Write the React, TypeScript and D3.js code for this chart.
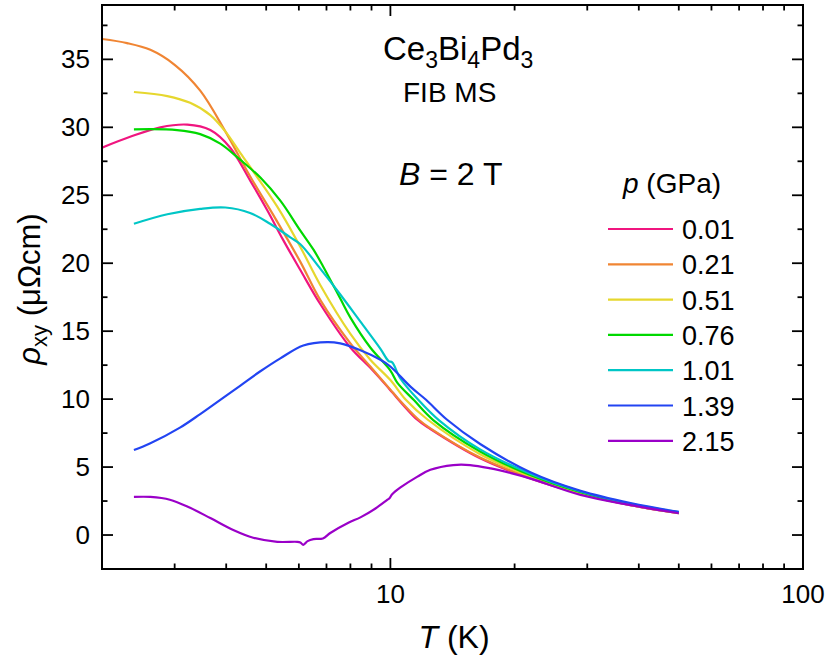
import { useMemo } from "react";
import * as d3 from "d3";

const WIDTH = 830;
const HEIGHT = 660;
const FRAME = { left: 102, right: 803, top: 5, bottom: 569 };
const FONT = "'Liberation Sans', Arial, Helvetica, sans-serif";

// pressures (GPa) and line colours
const pressures = ["0.01", "0.21", "0.51", "0.76", "1.01", "1.39", "2.15"];
const colors = ["#f0157f", "#f08533", "#e6d72e", "#00d800", "#00c6c6", "#2244f2", "#9a00c8"];

// [T (K), rho_xy (µΩcm)]
const p001 = [
  [2.0, 28.5], [2.34, 29.3], [2.77, 30.0], [3.22, 30.2], [3.66, 29.8], [4.09, 28.5], [4.57, 26.1],
  [5.03, 23.9], [5.5, 21.7], [6.05, 19.5], [6.76, 17.0], [8.0, 13.8], [8.94, 12.3], [9.84, 10.9],
  [10.1, 10.5], [11.6, 8.5], [12.5, 7.8], [16.5, 5.65], [21.9, 4.15], [28.9, 3.05], [38.2, 2.2],
  [50, 1.6],
];
const p021 = [
  [2.0, 36.5], [2.3, 36.2], [2.62, 35.7], [3.0, 34.6], [3.46, 32.7], [3.98, 29.7], [4.57, 26.4],
  [5.26, 23.3], [6.05, 20.1], [6.76, 17.3], [8.0, 14.1], [8.94, 12.4], [10.0, 10.7], [10.4, 10.1],
  [11.7, 8.5], [12.5, 7.85], [16.5, 5.7], [21.9, 4.2], [28.9, 3.05], [38.2, 2.2], [50, 1.6],
];
const p051 = [
  [2.39, 32.6], [2.88, 32.3], [3.27, 31.8], [3.66, 30.9], [3.98, 29.7], [4.33, 28.1], [4.84, 26.0],
  [5.41, 23.8], [6.05, 21.2], [6.76, 18.4], [8.0, 14.8], [8.94, 12.9], [10.0, 11.4], [10.9, 9.95],
  [12.3, 8.5], [16.5, 5.95], [21.9, 4.3], [28.9, 3.1], [38.2, 2.22], [50, 1.62],
];
const p076 = [
  [2.39, 29.85], [3.04, 29.8], [3.46, 29.5], [3.87, 28.8], [4.33, 27.6], [4.84, 26.3], [5.41, 24.6],
  [6.05, 22.4], [6.51, 21.0], [6.86, 19.8], [7.56, 17.4], [8.0, 16.0], [8.94, 13.8], [10.0, 12.1],
  [10.4, 11.2], [11.4, 9.93], [12.7, 8.46], [16.5, 6.15], [21.9, 4.4], [28.9, 3.15], [38.2, 2.25],
  [50, 1.65],
];
const p101 = [
  [2.39, 22.9], [2.88, 23.6], [3.46, 24.0], [3.98, 24.1], [4.57, 23.7], [5.11, 22.9], [5.72, 21.9],
  [6.05, 21.4], [6.76, 19.6], [7.56, 17.7], [8.46, 15.7], [9.46, 13.7], [9.9, 12.8], [10.1, 12.7],
  [10.58, 11.5], [11.7, 9.93], [13.1, 8.46], [16.5, 6.3], [21.9, 4.5], [28.9, 3.2], [38.2, 2.3],
  [50, 1.68],
];
const p139 = [
  [2.39, 6.25], [2.62, 6.75], [3.09, 7.9], [3.46, 8.9], [3.87, 9.95], [4.33, 11.0], [4.84, 12.05],
  [5.41, 13.0], [6.15, 13.95], [7.03, 14.2], [7.56, 14.1], [8.46, 13.6], [9.46, 12.9], [10.0, 12.4],
  [11.2, 10.9], [12.2, 9.95], [13.7, 8.5], [16.5, 6.7], [21.9, 4.6], [28.9, 3.25], [38.2, 2.35],
  [50, 1.7],
];
const p215 = [
  [2.39, 2.8], [2.62, 2.8], [2.92, 2.6], [3.27, 2.0], [3.66, 1.25], [4.16, 0.37], [4.65, -0.2],
  [5.32, -0.5], [5.95, -0.5], [6.05, -0.55], [6.15, -0.72], [6.3, -0.45], [6.51, -0.3], [6.86, -0.25],
  [7.15, 0.15], [7.91, 0.9], [8.46, 1.3], [9.2, 1.95], [9.84, 2.6], [9.95, 2.7], [10.1, 3.0],
  [10.58, 3.5], [11.63, 4.3], [12.5, 4.8], [14.2, 5.15], [15.6, 5.15], [17.5, 4.9], [19.6, 4.55],
  [21.9, 4.15], [28.9, 2.95], [38.2, 2.2], [50, 1.6],
];
const curves = [p001, p021, p051, p076, p101, p139, p215];

const xDomain = [2, 100];
const yDomain = [-2.5, 39];
const xMajor = [10, 100];
const xMinor = [3, 4, 5, 6, 7, 8, 9, 20, 30, 40, 50, 60, 70, 80, 90];
const yMajor = [0, 5, 10, 15, 20, 25, 30, 35];
const yMinor = [2.5, 7.5, 12.5, 17.5, 22.5, 27.5, 32.5, 37.5];

export default function App() {
  const x = useMemo(() => d3.scaleLog().domain(xDomain).range([FRAME.left, FRAME.right]), []);
  const y = useMemo(() => d3.scaleLinear().domain(yDomain).range([FRAME.bottom, FRAME.top]), []);
  const line = d3
    .line<number[]>()
    .x((d) => x(d[0]))
    .y((d) => y(d[1]))
    .curve(d3.curveCatmullRom.alpha(0.5));

  const major = 11;
  const minor = 5.5;

  return (
    <svg
      width={WIDTH}
      height={HEIGHT}
      viewBox={`0 0 ${WIDTH} ${HEIGHT}`}
      style={{ position: "absolute", left: 0, top: 0, background: "#fff" }}
      fontFamily={FONT}
    >
      <defs>
        <clipPath id="plot-clip">
          <rect x={FRAME.left} y={FRAME.top} width={FRAME.right - FRAME.left} height={FRAME.bottom - FRAME.top} />
        </clipPath>
      </defs>

      <g clipPath="url(#plot-clip)" fill="none" strokeWidth={2.2} strokeLinejoin="round">
        {curves.map((c, i) => (
          <path key={pressures[i]} d={line(c) ?? ""} stroke={colors[i]} />
        ))}
      </g>

      {/* ticks, pointing inward on all four sides */}
      <g stroke="#000" strokeWidth={1.8}>
        {[...xMajor.map((t) => [t, major]), ...xMinor.map((t) => [t, minor])].map(([t, len]) => (
          <g key={`xt${t}`}>
            <line x1={x(t)} x2={x(t)} y1={FRAME.bottom} y2={FRAME.bottom - len} />
            <line x1={x(t)} x2={x(t)} y1={FRAME.top} y2={FRAME.top + len} />
          </g>
        ))}
        {[...yMajor.map((v) => [v, major]), ...yMinor.map((v) => [v, minor])].map(([v, len]) => (
          <g key={`yt${v}`}>
            <line x1={FRAME.left} x2={FRAME.left + len} y1={y(v)} y2={y(v)} />
            <line x1={FRAME.right} x2={FRAME.right - len} y1={y(v)} y2={y(v)} />
          </g>
        ))}
      </g>
      <rect
        x={FRAME.left}
        y={FRAME.top}
        width={FRAME.right - FRAME.left}
        height={FRAME.bottom - FRAME.top}
        fill="none"
        stroke="#000"
        strokeWidth={2}
      />

      <g fontSize={26} fill="#000">
        {yMajor.map((v) => (
          <text key={`yl${v}`} x={90} y={y(v)} dy="0.35em" textAnchor="end">
            {v}
          </text>
        ))}
        {xMajor.map((t) => (
          <text key={`xl${t}`} x={x(t)} y={603} textAnchor="middle">
            {t}
          </text>
        ))}
      </g>

      <text x={454} y={648} fontSize={32} textAnchor="middle">
        <tspan fontStyle="italic">T</tspan> (K)
      </text>
      <text transform="translate(40,289) rotate(-90)" fontSize={31} textAnchor="middle">
        <tspan fontStyle="italic">ρ</tspan>
        <tspan fontSize={22} dy={7}>xy</tspan>
        <tspan dy={-7}> (μΩcm)</tspan>
      </text>

      <text x={383} y={60} fontSize={33}>
        Ce<tspan fontSize={23} dy={8}>3</tspan>
        <tspan dy={-8}>Bi</tspan>
        <tspan fontSize={23} dy={8}>4</tspan>
        <tspan dy={-8}>Pd</tspan>
        <tspan fontSize={23} dy={8}>3</tspan>
      </text>
      <text x={403} y={102} fontSize={28}>
        FIB MS
      </text>
      <text x={399} y={185} fontSize={32}>
        <tspan fontStyle="italic">B</tspan> = 2 T
      </text>

      <text x={623} y={193} fontSize={28}>
        <tspan fontStyle="italic">p</tspan> (GPa)
      </text>
      {pressures.map((p, i) => {
        const ly = 229 + i * 35.3;
        return (
          <g key={`lg${p}`}>
            <line x1={608} x2={673} y1={ly} y2={ly} stroke={colors[i]} strokeWidth={2.2} />
            <text x={682} y={ly + 10} fontSize={27}>
              {p}
            </text>
          </g>
        );
      })}
    </svg>
  );
}
